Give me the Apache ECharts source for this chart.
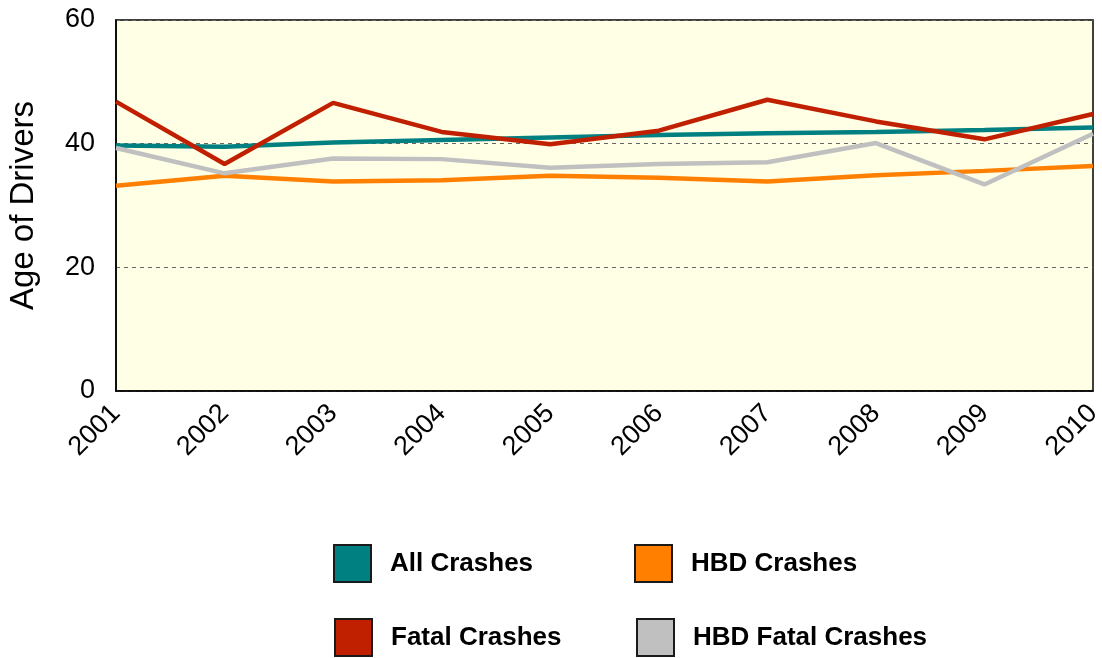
<!DOCTYPE html>
<html>
<head>
<meta charset="utf-8">
<script src="https://cdn.jsdelivr.net/npm/echarts@6/dist/echarts.min.js"></script>
<style>
html,body{margin:0;padding:0;background:#fff;}
#chart{width:1102px;height:658px;}
</style>
</head>
<body>
<div id="chart"></div>
<script>
const years = ['2001','2002','2003','2004','2005','2006','2007','2008','2009','2010'];
const allCrashes = [39.7, 39.5, 40.2, 40.6, 41.0, 41.4, 41.7, 41.9, 42.2, 42.6];
const hbdCrashes = [33.2, 34.8, 33.9, 34.1, 34.8, 34.5, 33.9, 34.9, 35.6, 36.4];
const fatalCrashes = [46.8, 36.7, 46.6, 41.9, 39.9, 42.1, 47.1, 43.6, 40.7, 44.8];
const hbdFatalCrashes = [39.3, 35.2, 37.6, 37.5, 36.1, 36.7, 37.0, 40.1, 33.4, 41.6];
const yTicks = [0, 20, 40, 60];

const FONT = "'Liberation Sans', Arial, Helvetica, sans-serif";
const colors = {
  'All Crashes': '#008080',
  'HBD Crashes': '#ff8000',
  'Fatal Crashes': '#c02000',
  'HBD Fatal Crashes': '#c0c0c0'
};

function mkLegend(name, left, top) {
  return {
    data: [name],
    left: left, top: top,
    orient: 'horizontal',
    icon: 'rect',
    itemWidth: 37, itemHeight: 37,
    itemStyle: { borderColor: '#1a1a1a', borderWidth: 2 },
    selectedMode: false,
    padding: 0,
    textStyle: { fontFamily: FONT, fontSize: 26, fontWeight: 'bold', color: '#000', padding: [0, 0, 0, 14] }
  };
}

function mkSeries(name, data) {
  return {
    name: name, type: 'line', data: data,
    symbol: 'none',
    lineStyle: { width: 4.5, color: colors[name] },
    itemStyle: { color: colors[name] }
  };
}

const chart = echarts.init(document.getElementById('chart'));
chart.setOption({
  animation: false,
  backgroundColor: '#ffffff',
  grid: {
    left: 116, right: 9, top: 20, bottom: 267,
    outerBoundsMode: 'none',
    containLabel: false,
    show: true, backgroundColor: '#ffffe6', borderColor: '#000', borderWidth: 1.5
  },
  legend: [
    mkLegend('All Crashes', 333, 544),
    mkLegend('HBD Crashes', 634, 544),
    mkLegend('Fatal Crashes', 334, 618),
    mkLegend('HBD Fatal Crashes', 636, 618)
  ],
  xAxis: {
    type: 'category', data: years, boundaryGap: false,
    axisLine: { show: true, lineStyle: { color: '#000', width: 1.5 } },
    axisTick: { show: false },
    axisLabel: { rotate: 45, margin: 18, fontFamily: FONT, fontSize: 27, color: '#000' },
    splitLine: { show: false }
  },
  yAxis: {
    type: 'value', min: yTicks[0], max: yTicks[yTicks.length - 1], interval: 20,
    name: 'Age of Drivers', nameLocation: 'middle', nameGap: 76,
    nameTextStyle: { fontFamily: FONT, fontSize: 33, color: '#000' },
    axisLine: { show: true, lineStyle: { color: '#000', width: 1.5 } },
    axisTick: { show: false },
    axisLabel: { margin: 21, fontFamily: FONT, fontSize: 27, color: '#000' },
    splitLine: { show: true, lineStyle: { type: [4, 4], color: '#666', width: 1 } }
  },
  series: [
    mkSeries('All Crashes', allCrashes),
    mkSeries('HBD Crashes', hbdCrashes),
    mkSeries('HBD Fatal Crashes', hbdFatalCrashes),
    mkSeries('Fatal Crashes', fatalCrashes)
  ]
});
</script>
</body>
</html>
